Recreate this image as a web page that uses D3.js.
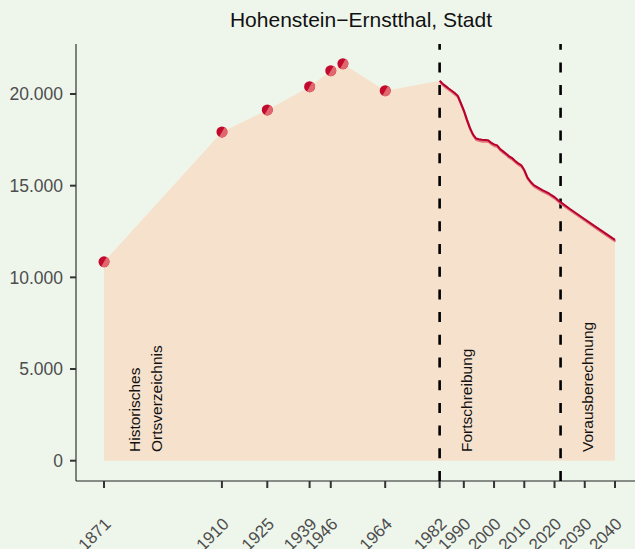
<!DOCTYPE html>
<html>
<head>
<meta charset="utf-8">
<script src="https://cdn.jsdelivr.net/npm/d3@7.9.0/dist/d3.min.js"></script>
<style>
  body { margin: 0; background: #eef6ec; }
  svg { display: block; font-family: "Liberation Sans", Arial, sans-serif; }
</style>
</head>
<body>
<svg id="chart"></svg>
<script>
// historical census points (Ortsverzeichnis)
const histYears = [1871, 1910, 1925, 1939, 1946, 1950, 1964];
const histValues = [10850, 17930, 19130, 20400, 21270, 21650, 20180];

// yearly population 1982..2022 (Fortschreibung) and projection to 2040
const lineYears = [1982, 1983, 1984, 1985, 1986, 1987, 1988, 1989, 1990, 1991,
  1992, 1993, 1994, 1995, 1996, 1997, 1998, 1999, 2000, 2001,
  2002, 2003, 2004, 2005, 2006, 2007, 2008, 2009, 2010, 2011,
  2012, 2013, 2014, 2015, 2016, 2017, 2018, 2019, 2020, 2021,
  2022, 2025, 2030, 2035, 2040];
const lineValues = [20720, 20560, 20430, 20300, 20180, 20050, 19900, 19500, 19100, 18600,
  18150, 17800, 17580, 17530, 17500, 17490, 17480, 17350, 17250, 17200,
  17000, 16870, 16740, 16600, 16500, 16350, 16220, 16120, 15850, 15450,
  15230, 15050, 14950, 14850, 14760, 14680, 14600, 14480, 14380, 14230,
  14100, 13740, 13170, 12600, 12040];

const tickYears = [1871, 1910, 1925, 1939, 1946, 1964, 1982, 1990, 2000, 2010, 2020, 2030, 2040];
const yTicks = [0, 5000, 10000, 15000, 20000];

const breaks = [1982, 2022];
const labels = [
  { year: 1881, lines: ["Historisches", "Ortsverzeichnis"] },
  { year: 1991, lines: ["Fortschreibung"] },
  { year: 2031, lines: ["Vorausberechnung"] }
];

const width = 635;
const height = 549;
const panelTop = 44, panelBottom = 481, panelLeft = 76;

const svg = d3.select('#chart')
  .attr('width', width)
  .attr('height', height);

svg.append('rect')
  .attr('width', width).attr('height', height)
  .attr('fill', '#eef6ec');

const x = d3.scaleLinear().domain([1871, 2040]).range([104, 615]);
const y = d3.scaleLinear().domain([0, 20000]).range([460.7, 94]);

// --- Area ---
const allData = histYears.map((d, i) => ({ year: d, value: histValues[i] }))
  .concat(lineYears.map((d, i) => ({ year: d, value: lineValues[i] })));

const area = d3.area()
  .x(d => x(d.year))
  .y0(y(0))
  .y1(d => y(d.value));

svg.append('path')
  .datum(allData)
  .attr('d', area)
  .attr('fill', '#f6e2cc');

// --- Title ---
svg.append('text')
  .attr('x', 361)
  .attr('y', 27)
  .attr('text-anchor', 'middle')
  .attr('font-size', 21)
  .attr('fill', '#111')
  .text('Hohenstein\u2212Ernstthal, Stadt');

// --- Y axis ---
const yAxis = svg.append('g')
  .attr('transform', `translate(${panelLeft},0)`);
yAxis.append('line')
  .attr('y1', panelTop).attr('y2', panelBottom)
  .attr('stroke', '#222').attr('stroke-width', 1.1);
yAxis.selectAll('.tick')
  .data(yTicks)
  .join('line')
  .attr('x1', -6).attr('x2', 0)
  .attr('y1', d => y(d)).attr('y2', d => y(d))
  .attr('stroke', '#333').attr('stroke-width', 2);
yAxis.selectAll('text')
  .data(yTicks)
  .join('text')
  .attr('x', -13)
  .attr('y', d => y(d))
  .attr('dy', '0.36em')
  .attr('text-anchor', 'end')
  .attr('font-size', 17.5)
  .attr('fill', '#4d4d4d')
  .text(d => d3.format(',')(d).replace(/,/g, '.'));

// --- X axis ---
const xAxis = svg.append('g')
  .attr('transform', `translate(0,${panelBottom})`);
xAxis.append('line')
  .attr('x1', panelLeft).attr('x2', width)
  .attr('stroke', '#222').attr('stroke-width', 1.1);
xAxis.selectAll('.tick')
  .data(tickYears)
  .join('line')
  .attr('x1', d => x(d)).attr('x2', d => x(d))
  .attr('y1', 0).attr('y2', 7)
  .attr('stroke', '#333').attr('stroke-width', 2);
xAxis.selectAll('text')
  .data(tickYears)
  .join('text')
  .attr('transform', d => `translate(${x(d) + 8},${44}) rotate(-45)`)
  .attr('text-anchor', 'end')
  .attr('font-size', 17)
  .attr('fill', '#4d4d4d')
  .text(d => d);

// --- Break lines ---
svg.selectAll('.break')
  .data(breaks)
  .join('line')
  .attr('x1', d => x(d)).attr('x2', d => x(d))
  .attr('y1', panelBottom).attr('y2', panelTop)
  .attr('stroke', '#000')
  .attr('stroke-width', 2.6)
  .attr('stroke-dasharray', '10,12.7');

// --- Segment labels ---
labels.forEach(l => {
  l.lines.forEach((t, i) => {
    svg.append('text')
      .attr('transform', `translate(${x(l.year) + i * 22},452) rotate(-90)`)
      .attr('dy', '0.35em')
      .attr('font-size', 15.5)
      .attr('fill', '#111')
      .text(t);
  });
});

// --- Line ---
const lineData = lineYears.map((d, i) => ({ year: d, value: lineValues[i] }));
const line = d3.line().x(d => x(d.year)).y(d => y(d.value));

svg.append('path')
  .datum(lineData)
  .attr('d', line)
  .attr('transform', 'translate(0.6,1.6)')
  .attr('fill', 'none')
  .attr('stroke', '#e0777c')
  .attr('stroke-width', 2.4);

svg.append('path')
  .datum(lineData)
  .attr('d', line)
  .attr('fill', 'none')
  .attr('stroke', '#b8002c')
  .attr('stroke-width', 2);

// --- Points ---
const histData = histYears.map((d, i) => ({ year: d, value: histValues[i] }));
const pts = svg.append('g');
pts.selectAll('circle')
  .data(histData)
  .join('circle')
  .attr('cx', d => x(d.year))
  .attr('cy', d => y(d.value))
  .attr('r', 5.5)
  .attr('fill', '#c20a2e');
// lighter lower-right half
const r = 5.5;
pts.selectAll('path')
  .data(histData)
  .join('path')
  .attr('transform', d => `translate(${x(d.year)},${y(d.value)}) rotate(-60)`)
  .attr('d', `M${-r},0 A${r},${r} 0 0 0 ${r},0 Z`)
  .attr('fill', '#e0676e');
</script>
</body>
</html>
